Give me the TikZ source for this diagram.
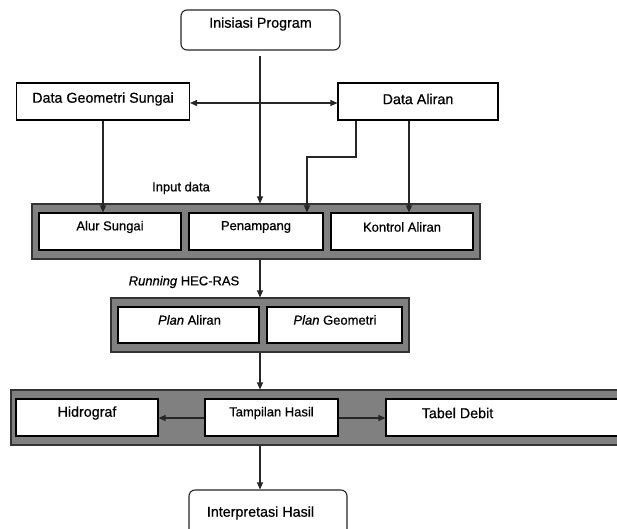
\documentclass[tikz,border=0pt]{standalone}
\usepackage{fontspec}
\setmainfont{Liberation Sans}[FakeBold=0.6]
\usetikzlibrary{arrows.meta}
\definecolor{panelgray}{HTML}{808080}
\tikzset{
  boxw/.style={draw=black, line width=1.1pt, fill=white, rectangle, inner sep=0pt},
  rbox/.style={draw=black!85, line width=1.1pt, fill=white, rectangle, rounded corners=6pt, inner sep=0pt},
  panel/.style={draw=black!80, line width=1.1pt, fill=panelgray, rectangle, inner sep=0pt},
  big/.style={font=\fontsize{14.3}{17}\selectfont, inner sep=0pt},
  small/.style={font=\fontsize{13}{15}\selectfont, inner sep=0pt},
  con/.style={draw=black!85, line width=1.1pt},
  arr/.style={con, -{Triangle[length=7pt,width=6pt]}},
  darr/.style={con, {Triangle[length=7pt,width=6pt]}-{Triangle[length=7pt,width=6pt]}}
}
\begin{document}
\begin{tikzpicture}[x=1pt,y=-1pt]
\clip (0,0) rectangle (617,528);
\fill[white] (0,0) rectangle (617,528);
% top
\node[rbox, minimum width=159pt, minimum height=40pt] (ip) at (260.5,30) {};
\node[big] (ipt) at (260.5,24) {Inisiasi Program};
\node[boxw, minimum width=173pt, minimum height=37pt] (dgs) at (103,101.5) {};
\node[big] (dgst) at (103,99) {Data Geometri Sungai};
\node[boxw, minimum width=160pt, minimum height=37pt] (da) at (418,101.5) {};
\node[big] (dat) at (418,99) {Data Aliran};
% panel 1
\node[panel, minimum width=448pt, minimum height=55pt] (o1) at (256,231.5) {};
\node[boxw, minimum width=142pt, minimum height=37pt] (alur) at (110,231.5) {};
\node[small] (alurt) at (110,227) {Alur Sungai};
\node[boxw, minimum width=134pt, minimum height=37pt] (pen) at (256,231.5) {};
\node[small] (pent) at (256,227) {Penampang};
\node[boxw, minimum width=142pt, minimum height=37pt] (kon) at (402,231.5) {};
\node[small] (kont) at (402,227) {Kontrol Aliran};
\node[small] (inp) at (181,188) {Input data};
% panel 2
\node[panel, minimum width=298pt, minimum height=54pt] (o2) at (260,325) {};
\node[boxw, minimum width=141pt, minimum height=36pt] (pa) at (188.5,325) {};
\node[small] (pat) at (189.5,320) {\textit{Plan} Aliran};
\node[boxw, minimum width=135pt, minimum height=36pt] (pg) at (334.5,325) {};
\node[small] (pgt) at (335,320) {\textit{Plan} Geometri};
\node[small] (run) at (184,282) {\textit{Running} HEC-RAS};
% panel 3
\node[panel, minimum width=620pt, minimum height=55pt] (o3) at (321,417.5) {};
\node[boxw, minimum width=142pt, minimum height=37pt] (hid) at (87,417.5) {};
\node[big] (hidt) at (87,413) {Hidrograf};
\node[boxw, minimum width=133pt, minimum height=37pt] (th) at (271.5,417.5) {};
\node[small] (tht) at (271.5,413) {Tampilan Hasil};
\node[boxw, minimum width=240pt, minimum height=37pt] (tb) at (506,417.5) {};
\node[big] (tbt) at (457.5,413) {Tabel Debit};
% bottom
\node[rbox, minimum width=158pt, minimum height=50pt] (ih) at (268,515) {};
\node[big] (iht) at (260.5,513) {Interpretasi Hasil};
% connectors
\coordinate (mx) at (260,0);
\coordinate (k1) at (356,157);
\coordinate (k2) at (307,157);
\coordinate (k3) at (409,0);
\draw[darr] ([yshift=-1.5pt]dgs.east) -- ([yshift=-1.5pt]da.west);
\draw[arr, shorten <=5pt] (ip.south -| mx) -- (o1.north -| mx);
\draw[arr] (dgs.south) -- (dgs.south |- alur.north);
\draw[arr] (da.south -| k1) -- (k1) -- (k2) -- (k2 |- pen.north);
\draw[arr] (da.south -| k3) -- (kon.north -| k3);
\draw[arr] (o1.south -| mx) -- (o2.north -| mx);
\draw[arr] (o2.south -| mx) -- (o3.north -| mx);
\draw[arr] ([yshift=-0.5pt]th.west) -- ([yshift=-0.5pt]hid.east);
\draw[arr] ([yshift=-0.5pt]th.east) -- ([yshift=-0.5pt]tb.west);
\draw[arr] (o3.south -| mx) -- (ih.north -| mx);
\end{tikzpicture}
\end{document}
